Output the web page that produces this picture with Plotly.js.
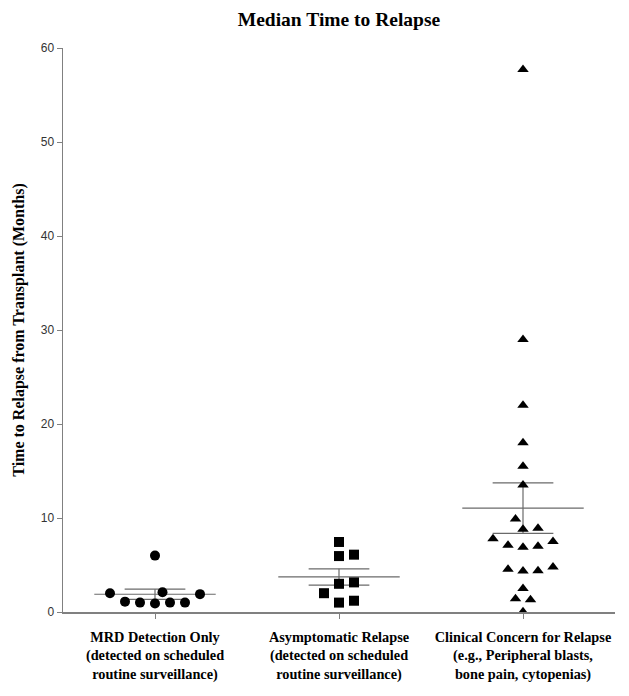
<!DOCTYPE html>
<html>
<head>
<meta charset="utf-8">
<script src="https://cdn.plot.ly/plotly-3.0.1.min.js"></script>
<style>html,body{margin:0;padding:0;background:#fff;}#chart{width:629px;height:696px;}</style>
</head>
<body>
<div id="chart"></div>
<script>
// ---- data (months) ----
const categories = [
  "MRD Detection Only<br>(detected on scheduled<br>routine surveillance)",
  "Asymptomatic Relapse<br>(detected on scheduled<br>routine surveillance)",
  "Clinical Concern for Relapse<br>(e.g., Peripheral blasts,<br>bone pain, cytopenias)"
];
const mrdValues = [6.0, 2.0, 2.1, 1.9, 1.1, 1.0, 0.9, 1.0, 1.0];
const asymptomaticValues = [7.45, 5.95, 6.1, 3.15, 3.0, 2.0, 1.0, 1.2];
const clinicalValues = [57.7, 29.0, 22.0, 18.0, 15.5, 13.5, 9.9, 8.8, 8.9, 7.5, 7.8,
  7.0, 6.9, 7.1, 4.55, 4.35, 4.4, 4.8, 2.5, 1.4, 1.3, 0.03];
const yTickValues = [0, 10, 20, 30, 40, 50, 60];

// ---- layout geometry ----
const W = 629, H = 696;
const margin = {l: 63, r: 14, t: 48, b: 84, pad: 0};
const xRange = [-0.5, 2.5], yRange = [0, 60];
const pxPerX = (W - margin.l - margin.r) / (xRange[1] - xRange[0]);
const pxPerY = (H - margin.t - margin.b) / (yRange[1] - yRange[0]);

// simple beeswarm: place each point at the nearest free horizontal slot
function swarm(values, center) {
  const D = 12.5, step = 7.5;
  const order = values.map((v, i) => i).sort((a, b) => values[a] - values[b]);
  const placed = [];
  const xs = new Array(values.length);
  order.forEach(i => {
    const ypx = values[i] * pxPerY;
    let k = 0, found = null;
    while (found === null) {
      const cands = k === 0 ? [0] : [k * step, -k * step];
      for (const c of cands) {
        const ok = placed.every(p => Math.hypot(p.x - c, p.y - ypx) >= D);
        if (ok) { found = c; break; }
      }
      k++;
    }
    placed.push({x: found, y: ypx});
    xs[i] = center + found / pxPerX;
  });
  return xs;
}

function meanSem(values) {
  const n = values.length;
  const m = values.reduce((a, b) => a + b, 0) / n;
  const sd = Math.sqrt(values.reduce((a, b) => a + (b - m) * (b - m), 0) / (n - 1));
  return [m, sd / Math.sqrt(n)];
}

const groups = [
  {vals: mrdValues, symbol: "circle", size: 10},
  {vals: asymptomaticValues, symbol: "square", size: 10},
  {vals: clinicalValues, symbol: "triangle-up", size: 10}
];

const traces = [];
const lineStyle = {color: "#6a6a6a", width: 1.2};
groups.forEach((g, i) => {
  const [m, sem] = meanSem(g.vals);
  const half = 0.33, cap = 0.165;
  traces.push({x: [i - half, i + half], y: [m, m], mode: "lines", line: lineStyle, hoverinfo: "skip"});
  traces.push({x: [i - cap, i + cap, null, i - cap, i + cap, null, i, i],
               y: [m + sem, m + sem, null, m - sem, m - sem, null, m - sem, m + sem],
               mode: "lines", line: lineStyle, hoverinfo: "skip"});
  traces.push({x: swarm(g.vals, i), y: g.vals, mode: "markers",
               marker: {symbol: g.symbol, size: g.size, color: "#000"}});
});

const layout = {
  width: W, height: H, margin: margin,
  paper_bgcolor: "#fff", plot_bgcolor: "#fff",
  showlegend: false,
  title: {text: "<b>Median Time to Relapse</b>", xref: "paper", x: 0.5, xanchor: "center",
          yref: "container", y: 0.972, yanchor: "middle",
          font: {family: "Liberation Serif", size: 19.5, color: "#000"}},
  xaxis: {
    range: xRange, tickvals: [0, 1, 2], ticktext: categories.map(c => "<b>" + c + "</b>"),
    showgrid: false, zeroline: false, showline: true, linecolor: "#808080", linewidth: 1.5,
    ticks: "outside", ticklen: 5, tickcolor: "#808080", tickwidth: 1, ticklabelstandoff: 6,
    tickfont: {family: "Liberation Serif", size: 14.3, color: "#000"}, fixedrange: true
  },
  yaxis: {
    range: yRange, tickvals: yTickValues, showgrid: false, zeroline: false,
    showline: true, linecolor: "#808080", linewidth: 1.5,
    ticks: "outside", ticklen: 5, tickcolor: "#808080", tickwidth: 1,
    tickfont: {family: "Liberation Sans", size: 12, color: "#333"},
    title: {text: "<b>Time to Relapse from Transplant (Months)</b>", standoff: 12,
            font: {family: "Liberation Serif", size: 16, color: "#000"}},
    fixedrange: true
  }
};

Plotly.newPlot("chart", traces, layout, {staticPlot: true});
</script>
</body>
</html>
